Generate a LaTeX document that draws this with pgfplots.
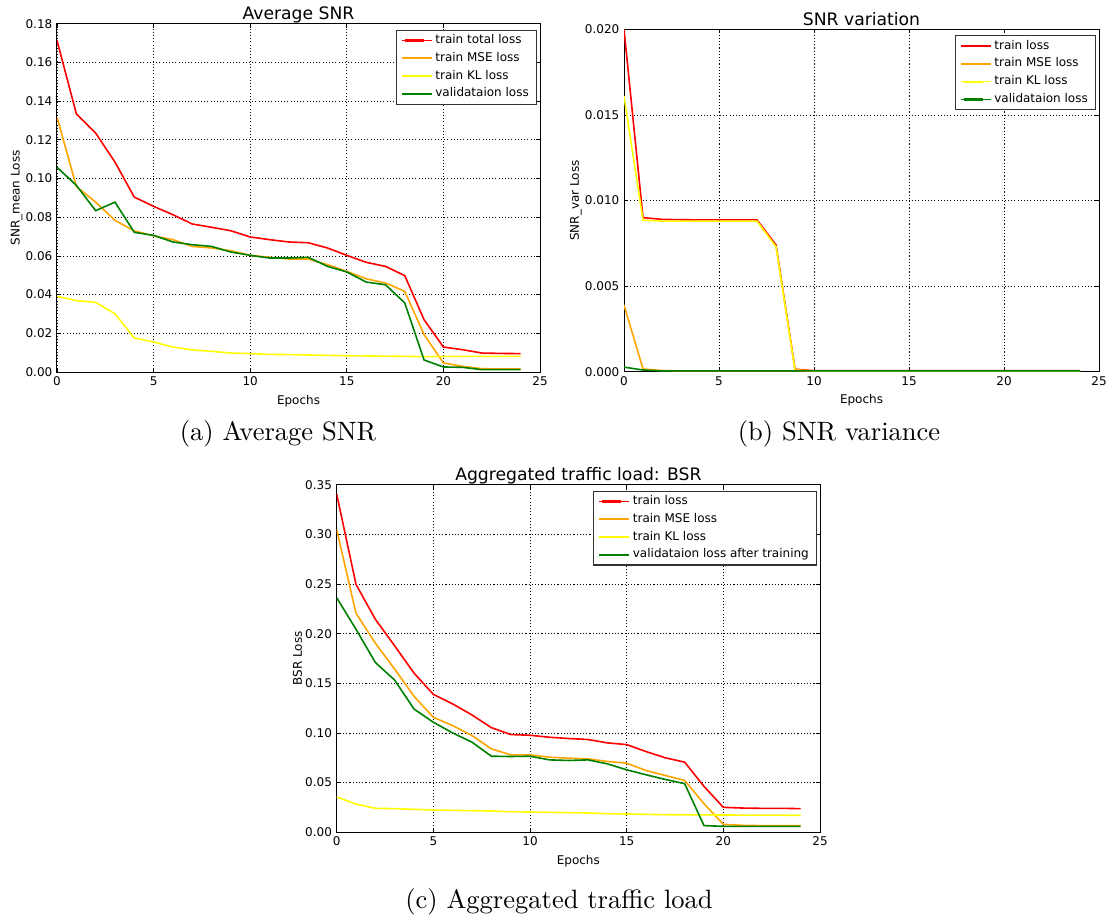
\documentclass[border=0pt]{standalone}
\usepackage{fontspec}
\usepackage{pgfplots}
\pgfplotsset{compat=1.18}
\newfontfamily\dv{DejaVu Sans}
\newfontfamily\capfont{lmroman10-regular.otf}
\definecolor{mplorange}{RGB}{255,165,0}
\definecolor{mplyellow}{RGB}{255,255,0}
\definecolor{mplgreen}{RGB}{0,128,0}

\pgfplotsset{
  lossaxis/.style={
    scale only axis,
    xmin=0, xmax=25, ymin=0,
    xtick={0,5,10,15,20,25},
    axis line style={black, line width=0.75pt},
    grid=major,
    grid style={black, line width=0.5pt, dash pattern=on 0.8pt off 1.6pt},
    tick align=inside, major tick length=3pt,
    tick style={black, line width=0.6pt},
    /pgf/number format/assume math mode=true,
    tick label style={font=\dv\fontsize{9}{10}\selectfont},
    label style={font=\dv\fontsize{9}{10}\selectfont},
    xlabel={Epochs},
    ylabel shift=-4.5pt,
    every axis title/.style={font=\dv\fontsize{12.9}{14}\selectfont,
      at={(0.5,1)}, anchor=base, yshift=3.2pt},
    legend style={at={(1,1)}, anchor=north east, xshift=-2.5pt, yshift=-4.5pt,
      draw=black!80, line width=0.8pt, fill=white,
      font=\dv\fontsize{9}{10}\selectfont,
      cells={anchor=west}, inner xsep=3.5pt, inner ysep=1pt, row sep=0pt,
      nodes={inner ysep=2.17pt, text height=6.8pt, text depth=2.2pt}},
    % legend sample as a thin filled bar in the plot colour
    legend image code/.code={
      \path (-2.5pt,0pt) -- (20.25pt,0pt);
      \fill[#1, draw=none] (0pt,-0.8pt) rectangle (14.25pt,0.8pt);},
    every axis plot/.append style={line width=1.2pt, mark=none},
    scaled y ticks=false,
  },
}

\begin{document}
\begin{tikzpicture}
\useasboundingbox (0,0) rectangle (837pt,-690pt);

% (a) Average SNR
\begin{axis}[lossaxis,
  at={(42.75pt,-279pt)}, anchor=south west,
  width=362.25pt, height=261.2pt,
  ymax=0.18, ytick={0,0.02,0.04,0.06,0.08,0.10,0.12,0.14,0.16,0.18},
  yticklabel style={/pgf/number format/.cd, fixed, fixed zerofill, precision=2},
  title={Average SNR},
  ylabel={SNR\_mean Loss},
]
\addplot[red] coordinates {(0,0.1714) (1,0.1335) (2,0.1235) (3,0.1085) (4,0.0904) (5,0.0856) (6,0.0813) (7,0.0765) (8,0.0748) (9,0.0730) (10,0.0698) (11,0.0684) (12,0.0672) (13,0.0668) (14,0.0641) (15,0.0603) (16,0.0567) (17,0.0546) (18,0.0498) (19,0.0270) (20,0.0129) (21,0.0115) (22,0.0098) (23,0.0096) (24,0.0095)};
\addlegendentry{train total loss}
\addplot[mplorange] coordinates {(0,0.1318) (1,0.0959) (2,0.0878) (3,0.0784) (4,0.0729) (5,0.0704) (6,0.0684) (7,0.0649) (8,0.0641) (9,0.0627) (10,0.0603) (11,0.0593) (12,0.0584) (13,0.0584) (14,0.0555) (15,0.0520) (16,0.0482) (17,0.0460) (18,0.0417) (19,0.0193) (20,0.0047) (21,0.0029) (22,0.0017) (23,0.0016) (24,0.0016)};
\addlegendentry{train MSE loss}
\addplot[mplyellow] coordinates {(0,0.0391) (1,0.0369) (2,0.0360) (3,0.0301) (4,0.0176) (5,0.0155) (6,0.0129) (7,0.0114) (8,0.0107) (9,0.0098) (10,0.0095) (11,0.0091) (12,0.0090) (13,0.0088) (14,0.0086) (15,0.0084) (16,0.0083) (17,0.0082) (18,0.0081) (19,0.0079) (20,0.0081) (21,0.0081) (22,0.0081) (23,0.0081) (24,0.0081)};
\addlegendentry{train KL loss}
\addplot[mplgreen] coordinates {(0,0.1058) (1,0.0965) (2,0.0834) (3,0.0878) (4,0.0722) (5,0.0706) (6,0.0672) (7,0.0658) (8,0.0649) (9,0.0620) (10,0.0603) (11,0.0589) (12,0.0589) (13,0.0593) (14,0.0546) (15,0.0517) (16,0.0465) (17,0.0451) (18,0.0357) (19,0.0062) (20,0.0026) (21,0.0024) (22,0.0012) (23,0.0012) (24,0.0012)};
\addlegendentry{validataion loss}
\end{axis}

% (b) SNR variation
\begin{axis}[lossaxis,
  at={(468pt,-278.8pt)}, anchor=south west,
  width=356.25pt, height=256.8pt,
  ymax=0.02, ytick={0,0.005,0.01,0.015,0.02},
  yticklabel style={/pgf/number format/.cd, fixed, fixed zerofill, precision=3},
  title={SNR variation},
  ylabel={SNR\_var Loss},
]
\addplot[red] coordinates {(0,0.0200) (1,0.0090) (2,0.00890) (3,0.00888) (4,0.00887) (5,0.00887) (6,0.00887) (7,0.00887) (8,0.0074) (9,0.00015) (10,0.00006) (11,0.00006) (12,0.00006) (13,0.00006) (14,0.00006) (15,0.00006) (16,0.00006) (17,0.00006) (18,0.00006) (19,0.00006) (20,0.00006) (21,0.00006) (22,0.00006) (23,0.00006) (24,0.00006)};
\addlegendentry{train loss}
\addplot[mplorange] coordinates {(0,0.0039) (1,0.00016) (2,0.00007) (3,0.00005) (4,0.00005) (5,0.00005) (6,0.00005) (7,0.00005) (8,0.00005) (9,0.00005) (10,0.00005) (11,0.00005) (12,0.00005) (13,0.00005) (14,0.00005) (15,0.00005) (16,0.00005) (17,0.00005) (18,0.00005) (19,0.00005) (20,0.00005) (21,0.00005) (22,0.00005) (23,0.00005) (24,0.00005)};
\addlegendentry{train MSE loss}
\addplot[mplyellow] coordinates {(0,0.0161) (1,0.00885) (2,0.00880) (3,0.00880) (4,0.00880) (5,0.00880) (6,0.00880) (7,0.00880) (8,0.0073) (9,0.00010) (10,0.00005) (11,0.00005) (12,0.00005) (13,0.00005) (14,0.00005) (15,0.00005) (16,0.00005) (17,0.00005) (18,0.00005) (19,0.00005) (20,0.00005) (21,0.00005) (22,0.00005) (23,0.00005) (24,0.00005)};
\addlegendentry{train KL loss}
\addplot[mplgreen] coordinates {(0,0.00027) (1,0.00010) (2,0.00005) (3,0.00005) (4,0.00005) (5,0.00005) (6,0.00005) (7,0.00005) (8,0.00005) (9,0.00005) (10,0.00005) (11,0.00005) (12,0.00005) (13,0.00005) (14,0.00005) (15,0.00005) (16,0.00005) (17,0.00005) (18,0.00005) (19,0.00005) (20,0.00005) (21,0.00005) (22,0.00005) (23,0.00005) (24,0.00005)};
\addlegendentry{validataion loss}
\end{axis}

% (c) Aggregated traffic load: BSR
\begin{axis}[lossaxis,
  at={(252.5pt,-624.2pt)}, anchor=south west,
  width=362.5pt, height=260.7pt,
  ymax=0.35, ytick={0,0.05,0.10,0.15,0.20,0.25,0.30,0.35},
  yticklabel style={/pgf/number format/.cd, fixed, fixed zerofill, precision=2},
  title={Aggregated traffic load: BSR},
  ylabel={BSR Loss},
]
\addplot[red] coordinates {(0,0.3406) (1,0.2496) (2,0.2145) (3,0.1877) (4,0.1603) (5,0.1389) (6,0.1292) (7,0.1181) (8,0.1054) (9,0.0984) (10,0.0977) (11,0.0957) (12,0.0944) (13,0.0934) (14,0.0900) (15,0.0883) (16,0.0813) (17,0.0750) (18,0.0706) (19,0.0462) (20,0.0251) (21,0.0244) (22,0.0241) (23,0.0241) (24,0.0238)};
\addlegendentry{train loss}
\addplot[mplorange] coordinates {(0,0.3048) (1,0.2205) (2,0.1904) (3,0.1643) (4,0.1369) (5,0.1158) (6,0.1074) (7,0.0974) (8,0.0840) (9,0.0780) (10,0.0780) (11,0.0756) (12,0.0746) (13,0.0739) (14,0.0713) (15,0.0696) (16,0.0622) (17,0.0572) (18,0.0522) (19,0.0288) (20,0.0080) (21,0.0070) (22,0.0067) (23,0.0067) (24,0.0067)};
\addlegendentry{train MSE loss}
\addplot[mplyellow] coordinates {(0,0.0355) (1,0.0284) (2,0.0241) (3,0.0238) (4,0.0231) (5,0.0224) (6,0.0221) (7,0.0217) (8,0.0214) (9,0.0207) (10,0.0204) (11,0.0201) (12,0.0197) (13,0.0194) (14,0.0187) (15,0.0184) (16,0.0181) (17,0.0177) (18,0.0176) (19,0.0175) (20,0.0174) (21,0.0173) (22,0.0172) (23,0.0172) (24,0.0171)};
\addlegendentry{train KL loss}
\addplot[mplgreen] coordinates {(0,0.2362) (1,0.2044) (2,0.1710) (3,0.1532) (4,0.1241) (5,0.1108) (6,0.1000) (7,0.0907) (8,0.0766) (9,0.0763) (10,0.0766) (11,0.0729) (12,0.0723) (13,0.0729) (14,0.0689) (15,0.0629) (16,0.0579) (17,0.0532) (18,0.0489) (19,0.0067) (20,0.0060) (21,0.0060) (22,0.0060) (23,0.0060) (24,0.0060)};
\addlegendentry{validataion loss after training}
\end{axis}

% subfigure captions
\node[font=\capfont\fontsize{19.9}{22}\selectfont, anchor=base] at (208.5pt,-330.5pt) {(a) Average SNR};
\node[font=\capfont\fontsize{19.9}{22}\selectfont, anchor=base] at (629.25pt,-330.5pt) {(b) SNR variance};
\node[font=\capfont\fontsize{19.9}{22}\selectfont, anchor=base] at (419.25pt,-681.4pt) {(c) Aggregated traffic load};
\end{tikzpicture}
\end{document}
